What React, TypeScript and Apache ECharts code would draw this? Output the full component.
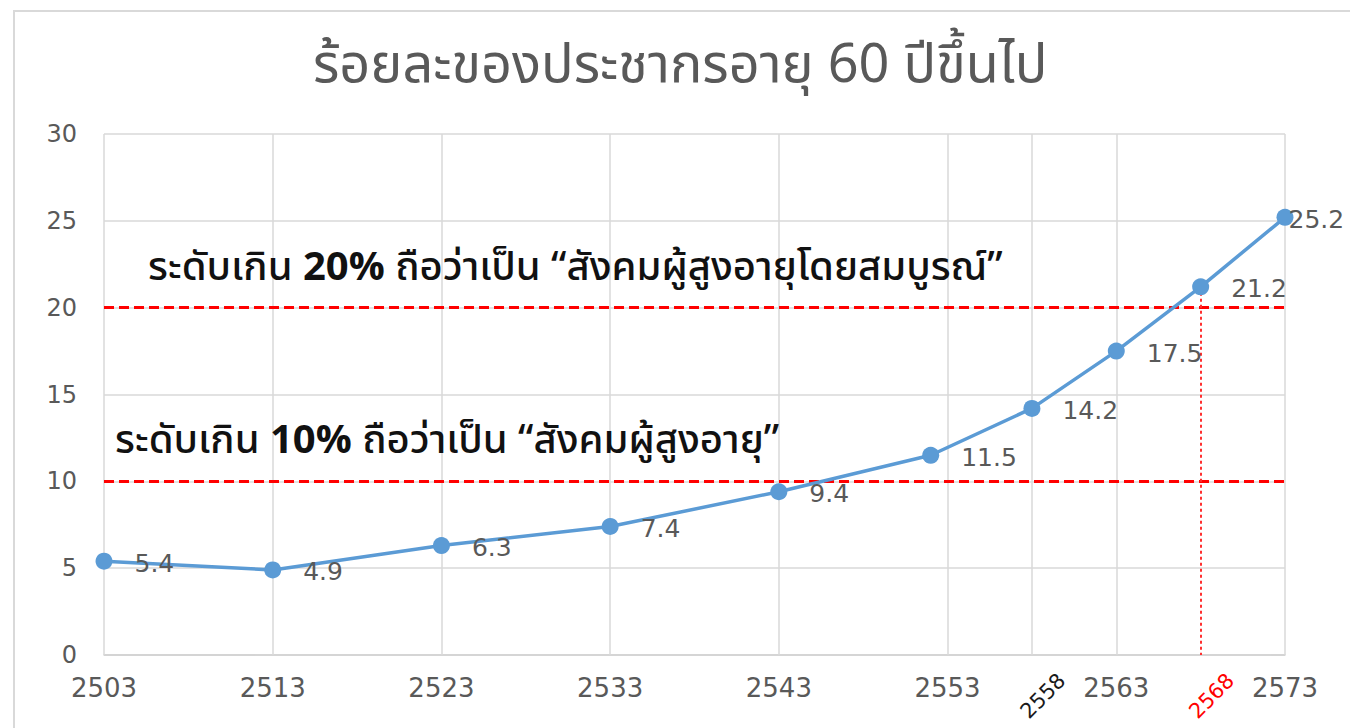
import React, { useEffect, useRef } from "react";
import * as echarts from "echarts";

const titleText = "ร้อยละของประชากรอายุ 60 ปีขึ้นไป";
const years = [2503, 2513, 2523, 2533, 2543, 2552, 2558, 2563, 2568, 2573];
const values = [5.4, 4.9, 6.3, 7.4, 9.4, 11.5, 14.2, 17.5, 21.2, 25.2];
const gridYears = [2503, 2513, 2523, 2533, 2543, 2553, 2558, 2563, 2573];
const flatLabelYears = [2503, 2513, 2523, 2533, 2543, 2553, 2563, 2573];
const slantLabelYears = [2558, 2568];
const thresholds = [10, 20];
const highlightYear = 2568;
const highlightValue = 21.2;
const note20 = ["ระดับเกิน ", "20%", " ถือว่าเป็น “สังคมผู้สูงอายุโดยสมบูรณ์”"];
const note10 = ["ระดับเกิน ", "10%", " ถือว่าเป็น “สังคมผู้สูงอายุ”"];

const FONT = '"Noto Sans Thai", "Noto Sans", "DejaVu Sans", sans-serif';
const NUMFONT = '"DejaVu Sans", sans-serif';

export default function App() {
  const ref = useRef<HTMLDivElement>(null);
  useEffect(() => {
    document.body.style.margin = "0";
    const chart = echarts.init(ref.current!, null, { renderer: "svg" });
    const xMin = years[0];
    const xMax = years[years.length - 1];
    chart.setOption({
      animation: false,
      backgroundColor: "#ffffff",
      title: {
        text: titleText,
        left: 308,
        top: 33,
        textStyle: { fontFamily: FONT, fontSize: 54, fontWeight: "normal", color: "#595959" },
      },
      grid: { left: 104, right: 65, top: 134, bottom: 73 },
      xAxis: {
        type: "value",
        min: xMin,
        max: xMax,
        axisLine: { lineStyle: { color: "#d0d0d0", width: 1.5 } },
        axisTick: { show: false },
        splitLine: { show: false },
        axisLabel: {
          customValues: flatLabelYears,
          color: "#595959",
          fontSize: 26,
          fontFamily: NUMFONT,
          margin: 20,
          formatter: (v: number) => String(v),
        },
      },
      yAxis: {
        type: "value",
        min: 0,
        max: 30,
        interval: 5,
        axisLine: { show: false },
        axisTick: { show: false },
        splitLine: { lineStyle: { color: "#d9d9d9", width: 1.5 } },
        axisLabel: { color: "#595959", fontSize: 24, fontFamily: NUMFONT, margin: 27 },
      },
      series: [
        {
          type: "line",
          data: [],
          silent: true,
          markLine: {
            silent: true,
            symbol: "none",
            label: { show: false },
            lineStyle: { color: "#d9d9d9", width: 1.5, type: "solid" },
            data: gridYears.map((y) => ({ xAxis: y })),
          },
          z: 1,
        },
        {
          type: "line",
          data: [],
          silent: true,
          markLine: {
            silent: true,
            symbol: "none",
            label: { show: false },
            lineStyle: { color: "#ff0000", width: 3, type: [10, 5] },
            data: thresholds.map((t) => [{ coord: [xMin, t] }, { coord: [xMax, t] }]),
          },
          z: 3,
        },
        {
          type: "line",
          data: [],
          silent: true,
          markLine: {
            silent: true,
            symbol: "none",
            label: { show: false },
            lineStyle: { color: "#ff3030", width: 2, type: [3, 3] },
            data: [[{ coord: [highlightYear, highlightValue] }, { coord: [highlightYear, 0] }]],
          },
          z: 3,
        },
        {
          type: "line",
          data: years.map((y, i) =>
            i === years.length - 1
              ? { value: [y, values[i]], label: { distance: -5 } }
              : [y, values[i]]
          ),
          symbol: "circle",
          symbolSize: 17,
          lineStyle: { color: "#5b9bd5", width: 3.5 },
          itemStyle: { color: "#5b9bd5" },
          label: {
            show: true,
            position: "right",
            distance: 22,
            offset: [0, 2],
            color: "#595959",
            fontSize: 25,
            fontFamily: NUMFONT,
            formatter: (p: any) => String(p.value[1]),
          },
          z: 5,
        },
      ],
    });

    const axisY = chart.convertToPixel({ yAxisIndex: 0 }, 0) as number;
    const slant = slantLabelYears.map((y, i) => {
      const px = chart.convertToPixel({ xAxisIndex: 0 }, y) as number;
      return {
        type: "text",
        x: px + 11,
        y: axisY + 41,
        rotation: Math.PI / 4,
        style: {
          text: String(y),
          fill: i === 0 ? "#1a1a1a" : "#ff0000",
          font: `21px ${NUMFONT}`,
          align: "center",
          verticalAlign: "middle",
        },
        z: 10,
      };
    });
    const note = (parts: string[], x: number, y: number) => ({
      type: "text",
      x,
      y,
      style: {
        text: `{n|${parts[0]}}{b|${parts[1]}}{n|${parts[2]}}`,
        verticalAlign: "middle",
        rich: {
          n: { fontFamily: FONT, fontSize: 40, fill: "#111111", fontWeight: 500 },
          b: { fontFamily: FONT, fontSize: 40, fill: "#111111", fontWeight: "bold" },
        },
      },
      z: 10,
    });
    chart.setOption({
      graphic: [
        {
          type: "polyline",
          shape: { points: [[14, 728], [14, 11], [1350, 11]] },
          style: { stroke: "#d9d9d9", lineWidth: 2, fill: "none" },
          silent: true,
        },
        note(note20, 148, 268),
        note(note10, 115, 441),
        ...slant,
      ],
    });
    return () => chart.dispose();
  }, []);
  return <div ref={ref} style={{ width: 1350, height: 728 }} />;
}
